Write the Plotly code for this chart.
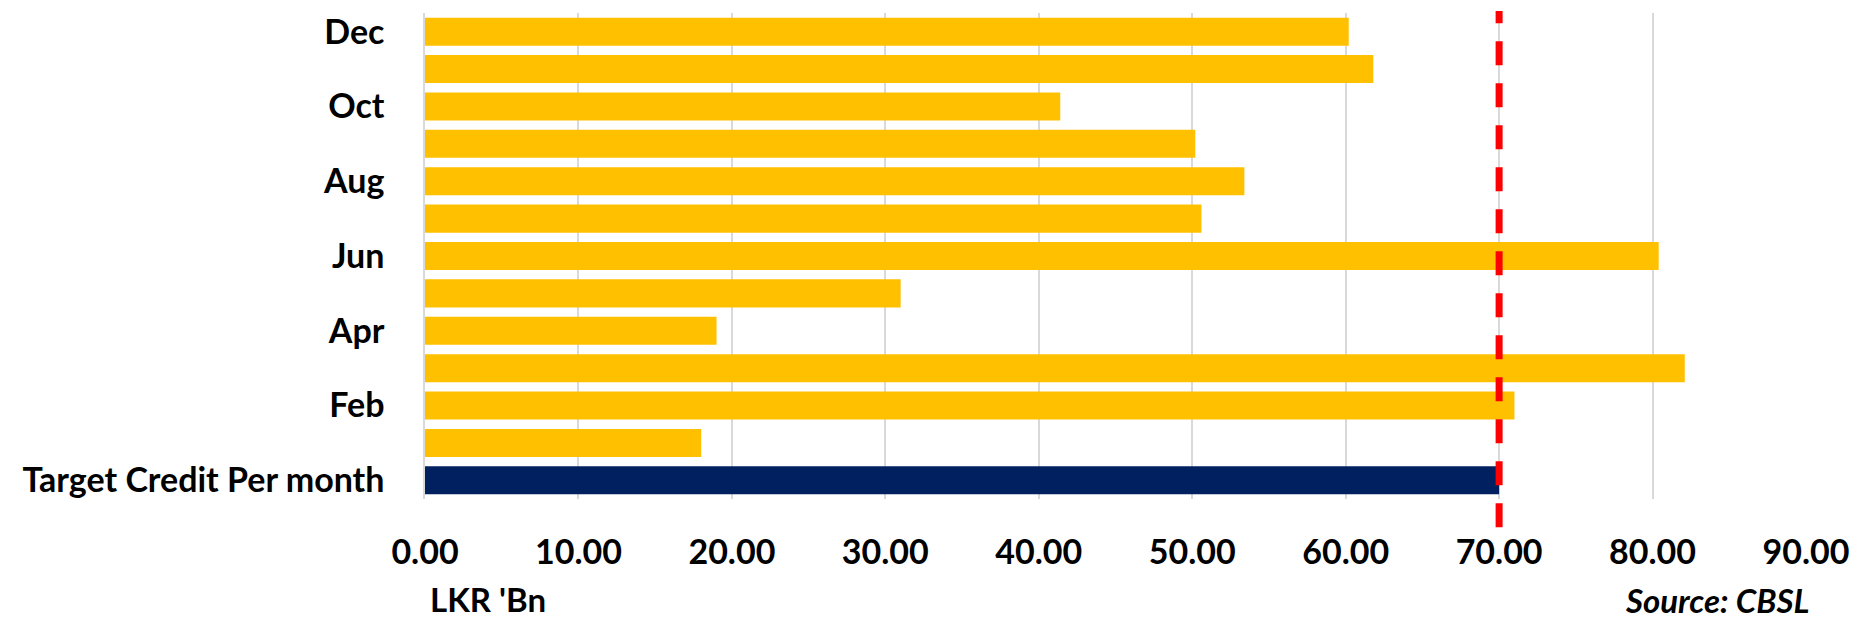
import plotly.graph_objects as go

# Monthly credit granted vs. target (LKR billion)
months = ["Jan", "Feb", "Mar", "Apr", "May", "Jun",
          "Jul", "Aug", "Sep", "Oct", "Nov", "Dec"]
monthly_credit = [18.0, 71.0, 82.1, 19.0, 31.0, 80.4,
                  50.6, 53.4, 50.2, 41.4, 61.8, 60.2]
target_label = "Target Credit Per month"
target_value = 70.0
x_ticks = [0, 10, 20, 30, 40, 50, 60, 70, 80, 90]

YELLOW = "#FFC000"
NAVY = "#002060"
FONT = "Lato"

categories = [target_label] + months
values = [target_value] + monthly_credit
colors = [NAVY] + [YELLOW] * len(months)

fig = go.Figure(
    go.Bar(
        x=values,
        y=categories,
        orientation="h",
        marker=dict(color=colors, line=dict(width=0)),
        width=0.75,
        hoverinfo="x+y",
    )
)

# Target reference line, running slightly past the plot area
fig.add_shape(
    type="line",
    xref="x", yref="paper",
    x0=target_value, x1=target_value,
    y0=-0.058, y1=1.004,
    line=dict(color="#FF0000", width=7, dash="24px,18px"),
    layer="above",
)

fig.add_annotation(
    text="<b>LKR 'Bn</b>",
    xref="paper", yref="paper",
    x=0.002, y=-0.252,
    xanchor="left", yanchor="bottom",
    showarrow=False,
    font=dict(family=FONT, size=33, color="#000000"),
)
fig.add_annotation(
    text="<b><i>Source: CBSL</i></b>",
    xref="x", yref="paper",
    x=78.1, y=-0.254,
    xanchor="left", yanchor="bottom",
    showarrow=False,
    font=dict(family=FONT, size=33, color="#000000"),
)

shown_labels = [c for i, c in enumerate(categories) if i % 2 == 0]

fig.update_layout(
    width=1860,
    height=624,
    margin=dict(l=425, r=54, t=10, b=125),
    plot_bgcolor="#FFFFFF",
    paper_bgcolor="#FFFFFF",
    showlegend=False,
    bargap=0.25,
    font=dict(family=FONT, size=34, color="#000000"),
    xaxis=dict(
        range=[0, 90],
        tickmode="array",
        tickvals=x_ticks,
        ticktext=[f"<b>{v:.2f}</b>" for v in x_ticks],
        showgrid=True,
        gridcolor="#D9D9D9",
        gridwidth=1.5,
        zeroline=False,
        showline=False,
        ticks="",
        ticklabelstandoff=30,
        tickfont=dict(family=FONT, size=34, color="#000000"),
    ),
    yaxis=dict(
        type="category",
        categoryorder="array",
        categoryarray=categories,
        tickmode="array",
        tickvals=shown_labels,
        ticktext=[f"<b>{c}</b>" for c in shown_labels],
        showgrid=False,
        zeroline=False,
        showline=True,
        linecolor="#D9D9D9",
        linewidth=1.5,
        ticks="",
        ticklabelstandoff=32,
        tickfont=dict(family=FONT, size=34, color="#000000"),
    ),
)

fig.write_html("out.html")
